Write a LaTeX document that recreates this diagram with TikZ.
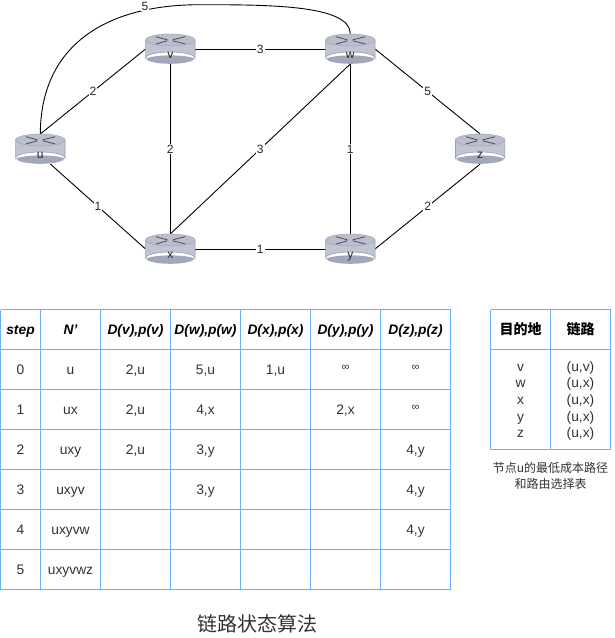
\documentclass[tikz,border=0pt]{standalone}
\usepackage{fontspec}
\setmainfont{Liberation Sans}
\newfontfamily\cjk{Noto Sans CJK SC}
\usetikzlibrary{backgrounds}
\definecolor{gridblue}{HTML}{66B2FF}
\definecolor{rtop}{HTML}{BABECD}
\definecolor{rbody}{HTML}{C0C4D3}
\definecolor{rlow}{HTML}{A2A8B9}
\definecolor{redge}{HTML}{9A9EAD}
\definecolor{txt}{HTML}{333333}
\tikzset{
  routerbox/.style={rectangle,minimum width=49.5pt,minimum height=30pt,inner sep=0pt,outer sep=0pt},
  routertext/.style={inner sep=0pt,text height=7pt,text depth=0pt,font=\fontsize{12}{12}\selectfont,text=black!85},
  link/.style={draw=black,line width=0.9pt},
  cost/.style={fill=white,inner sep=1pt,font=\fontsize{12}{12}\selectfont,text=black!85},
  gridline/.style={draw=gridblue,line width=1pt},
  cell/.style={inner sep=0pt,text height=9pt,text depth=0pt,font=\fontsize{13.8}{14}\selectfont,text=txt},
  infcell/.style={inner sep=0pt,text height=6pt,text depth=0pt,font=\fontsize{11}{12}\selectfont,text=txt},
  headcell/.style={inner sep=0pt,text height=9pt,text depth=0pt,font=\fontsize{13.8}{14}\selectfont\bfseries\itshape,text=black},
  cjkhead/.style={inner sep=0pt,font=\cjk\fontsize{14}{14}\selectfont\bfseries,text=black},
  caption/.style={inner sep=0pt,align=center,font=\cjk\fontsize{12}{15.5}\selectfont,text=txt},
  title/.style={inner sep=0pt,font=\cjk\fontsize{20}{24}\selectfont,text=txt}
}
\newcommand{\router}[4]{%
  \begin{scope}[shift={(#2,#3)}]
    \path[fill=rbody,draw=redge,line width=0.6pt] (-24.7,-9) -- (-24.7,9) arc[start angle=180,end angle=360,x radius=24.7,y radius=6] -- (24.7,-9) -- cycle;
    \path[fill=rlow] (-24.2,9.4) .. controls (-14,5.4) and (14,5.4) .. (24.2,9.4) arc[start angle=0,end angle=180,x radius=24.2,y radius=5.4] -- cycle;
    \path[fill=rtop,draw=redge,line width=0.4pt] (0,-9) circle[x radius=24.7,y radius=6];
    \path[draw=black!70,line width=0.8pt] (-14.3,-12.3) -- (-3,-9.2) (-14.3,-5) -- (-3,-8.2) (15,-12.3) -- (2.5,-9.2) (15,-5) -- (2.5,-8.2);
    \node[routerbox] (#1) at (0,0) {};
    \node[routertext] (#1-label) at (0,6) {#4};
  \end{scope}}
\begin{document}
\begin{tikzpicture}[x=1pt,y=-1pt]
\useasboundingbox (0,0) rectangle (614,638);
\router{u}{40.3}{149}{u}
\router{v}{170.3}{49}{v}
\router{w}{350.3}{49}{w}
\router{z}{480.2}{149}{z}
\router{x}{170.3}{249}{x}
\router{y}{350.3}{249}{y}
\begin{scope}[on background layer]
  \fill[white] (0,0) rectangle (614,638);
  \path[link] (u.north) .. controls (40.5,50) and (100,4.7) .. (200,4.7) .. controls (270,4.7) and (350.5,5) .. (w.north);
  \node[cost] (c-uw) at (145,6) {5};
  \path[link] (u.north) -- node[cost] (c-uv) {2} (v.west);
  \path[link] ([xshift=10pt]u.south) -- node[cost] (c-ux) {1} (x.west);
  \path[link] (v.east) -- node[cost] (c-vw) {3} (w.west);
  \path[link] (v.south) -- node[cost] (c-vx) {2} (x.north);
  \path[link] (x.north) -- node[cost] (c-xw) {3} (w.south);
  \path[link] (w.south) -- node[cost] (c-wy) {1} (y.north);
  \path[link] (w.east) -- node[cost] (c-wz) {5} (z.north);
  \path[link] (x.east) -- node[cost] (c-xy) {1} (y.west);
  \path[link] (y.east) -- node[cost] (c-yz) {2} (z.south);
\end{scope}
% main table grid
\foreach \gx in {0.5,40.5,100.5,170.5,240.5,310.5,380.5,450.5}
  \path[gridline] (\gx,309.5) -- (\gx,589.5);
\foreach \gy in {309.5,349.5,389.5,429.5,469.5,509.5,549.5,589.5}
  \path[gridline] (0.5,\gy) -- (450.5,\gy);
% headers
\foreach \cx/\cn/\ct in {20.5/a/step,70.5/b/{N'},135.5/c/{D(v),p(v)},205.5/d/{D(w),p(w)},275.5/e/{D(x),p(x)},345.5/f/{D(y),p(y)},415.5/g/{D(z),p(z)}}
  \node[headcell] (h-\cn) at (\cx,329.5) {\ct};
% body cells
\foreach \cx/\cy/\cn/\ct in {
  20.5/369.5/a0/0,70.5/369.5/b0/u,135.5/369.5/c0/{2,u},205.5/369.5/d0/{5,u},275.5/369.5/e0/{1,u},
  20.5/409.5/a1/1,70.5/409.5/b1/ux,135.5/409.5/c1/{2,u},205.5/409.5/d1/{4,x},345.5/409.5/f1/{2,x},
  20.5/449.5/a2/2,70.5/449.5/b2/uxy,135.5/449.5/c2/{2,u},205.5/449.5/d2/{3,y},415.5/449.5/g2/{4,y},
  20.5/489.5/a3/3,70.5/489.5/b3/uxyv,205.5/489.5/d3/{3,y},415.5/489.5/g3/{4,y},
  20.5/529.5/a4/4,70.5/529.5/b4/uxyvw,415.5/529.5/g4/{4,y},
  20.5/569.5/a5/5,70.5/569.5/b5/uxyvwz}
  \node[cell] (t-\cn) at (\cx,\cy) {\ct};
\foreach \cx/\cy/\cn in {345.5/367.5/f0,415.5/367.5/g0,415.5/407.5/g1}
  \node[infcell] (t-\cn) at (\cx,\cy) {∞};
% route table
\foreach \gx in {490.5,550.5,610.5}
  \path[gridline] (\gx,309.5) -- (\gx,449.5);
\foreach \gy in {309.5,349.5,449.5}
  \path[gridline] (490.5,\gy) -- (610.5,\gy);
\node[cjkhead] (r-dest) at (520.5,329.5) {目的地};
\node[cjkhead] (r-link) at (580.5,329.5) {链路};
\foreach \cy/\cn/\ca/\cb in {366.5/1/v/{(u,v)},383/2/w/{(u,x)},399.5/3/x/{(u,x)},416.5/4/y/{(u,x)},433/5/z/{(u,x)}}{
  \node[cell] (d-\cn) at (520.5,\cy) {\ca};
  \node[cell] (l-\cn) at (580.5,\cy) {\cb};
}
\node[caption] (cap) at (550.5,476) {节点u的最低成本路径\\和路由选择表};
\node[title] (ttl) at (257.5,623.5) {链路状态算法};
\end{tikzpicture}
\end{document}
